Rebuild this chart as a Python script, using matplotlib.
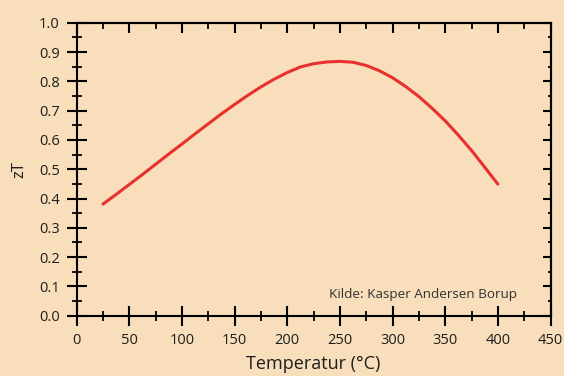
import matplotlib
matplotlib.use("Agg")
import matplotlib.pyplot as plt
from matplotlib.ticker import MultipleLocator, FormatStrFormatter

temperature = [25, 37.5, 50, 62.5, 75, 87.5, 100, 112.5, 125, 137.5, 150, 162.5, 175, 187.5,
               200, 212.5, 225, 237.5, 250, 262.5, 275, 287.5, 300, 312.5, 325, 337.5,
               350, 362.5, 375, 387.5, 400]
zT = [0.381, 0.414, 0.448, 0.482, 0.517, 0.552, 0.586, 0.621, 0.655, 0.689, 0.721, 0.752,
      0.781, 0.807, 0.830, 0.849, 0.860, 0.866, 0.868, 0.865, 0.854, 0.836, 0.812, 0.782,
      0.748, 0.708, 0.665, 0.616, 0.564, 0.507, 0.449]

bg = "#F8DEBA"
plt.rcParams['font.family'] = ['Open Sans', 'DejaVu Sans']

fig = plt.figure(figsize=(5.64, 3.76), dpi=100, facecolor=bg)
ax = fig.add_axes([76.7/564, 1-315.7/376, (550.5-76.7)/564, (315.7-22.7)/376])
ax.set_facecolor(bg)

ax.plot(temperature, zT, color="#E8302E", lw=2.2, solid_capstyle='round', solid_joinstyle='round')

ax.set_xlim(0, 450)
ax.set_ylim(0, 1.0)
ax.xaxis.set_major_locator(MultipleLocator(50))
ax.xaxis.set_minor_locator(MultipleLocator(25))
ax.yaxis.set_major_locator(MultipleLocator(0.1))
ax.yaxis.set_minor_locator(MultipleLocator(0.05))
ax.yaxis.set_major_formatter(FormatStrFormatter('%.1f'))

for s in ax.spines.values():
    s.set_linewidth(1.5)
    s.set_color('black')

ax.tick_params(which='major', direction='inout', length=14.5, width=1.5, labelsize=10.5, pad=5, colors='black')
ax.tick_params(which='minor', direction='inout', length=7.5, width=1.3)
ax.tick_params(labelcolor='#1e1e1e')

sx = ax.secondary_xaxis('top')
sx.xaxis.set_major_locator(MultipleLocator(50))
sx.xaxis.set_minor_locator(MultipleLocator(25))
sx.tick_params(which='major', direction='in', length=7, width=1.5, labeltop=False)
sx.tick_params(which='minor', direction='in', length=4.3, width=1.3)
sx.spines['top'].set_linewidth(1.5)

sy = ax.secondary_yaxis('right')
sy.yaxis.set_major_locator(MultipleLocator(0.1))
sy.yaxis.set_minor_locator(MultipleLocator(0.05))
sy.tick_params(which='major', direction='in', length=6, width=1.5, labelright=False)
sy.tick_params(which='minor', direction='in', length=2.5, width=1.3)
sy.spines['right'].set_linewidth(1.5)

ax.set_xlabel("Temperatur (°C)", fontsize=13, color='#1e1e1e', labelpad=5)
ax.set_ylabel("zT", fontsize=12, color='#1e1e1e', labelpad=8)

ax.text(0.929, 0.071, "Kilde: Kasper Andersen Borup", transform=ax.transAxes,
        ha='right', va='center', fontsize=9.7, color='#333333')

fig.savefig("out.png", dpi=100, facecolor=bg)
